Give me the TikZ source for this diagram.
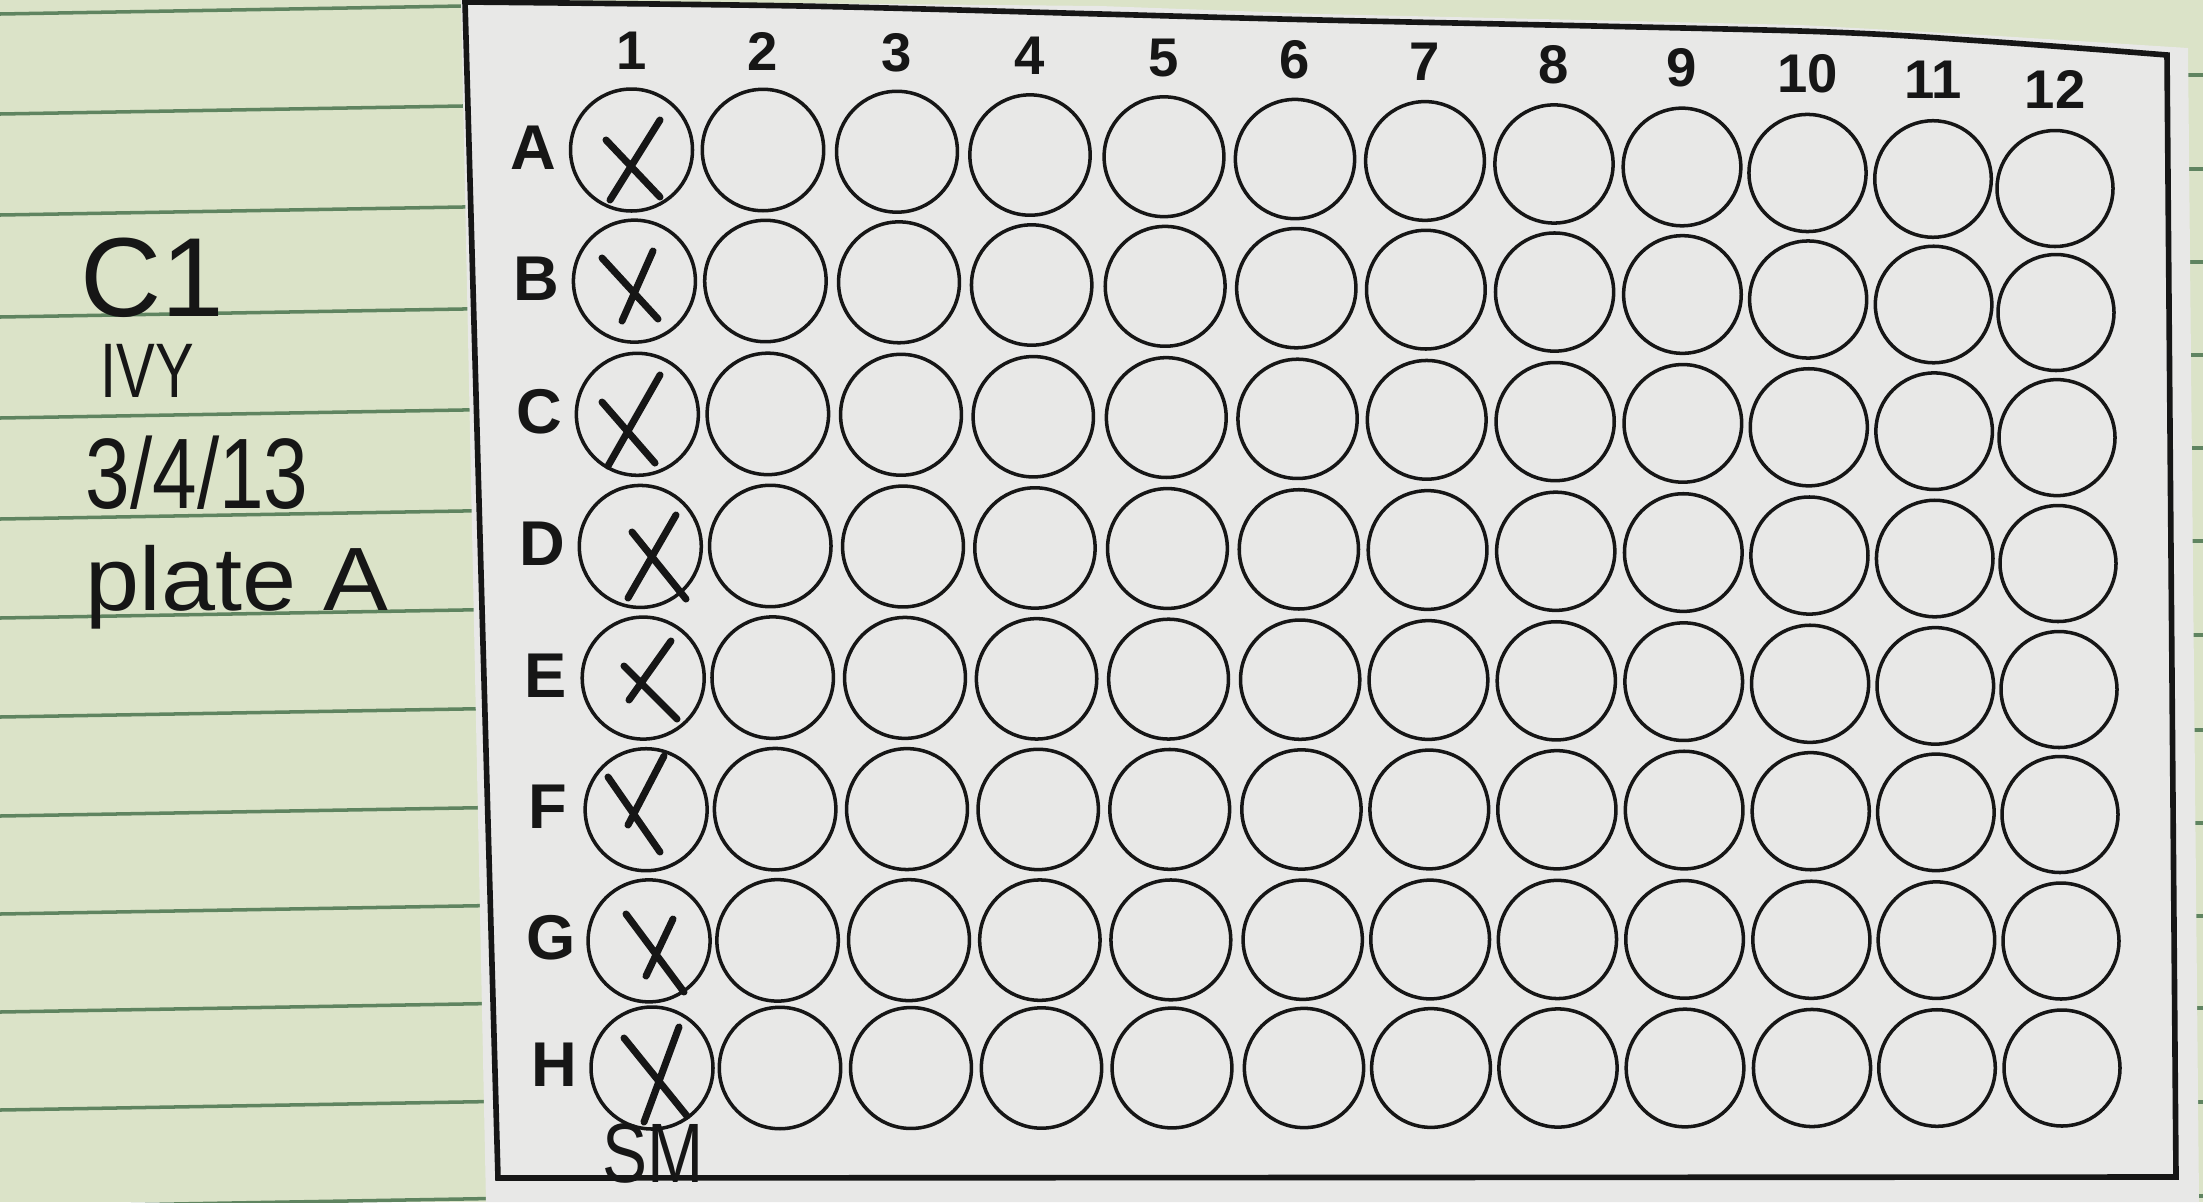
\documentclass[tikz,border=0pt]{standalone}
\usepackage{fontspec}
\setmainfont{Liberation Sans}
\definecolor{notebook}{RGB}{219,227,200}
\definecolor{rulegreen}{RGB}{95,132,96}
\definecolor{sheet}{RGB}{232,232,231}
\definecolor{ink}{RGB}{22,22,22}

% well centres (pixel units)
\def\rowAx{{631.5,763,897,1030,1164,1295,1425,1554,1682,1807.5,1933,2055}}
\def\rowHx{{652,780,911,1041.5,1172,1304,1431,1558,1685,1812,1937,2062}}
\def\colAy{{151,282,415,547,678.5,810,941,1068}}
\def\colLy{{188.5,312.5,437.6,563.5,689.5,814.5,941,1068}}
\def\bowA{{-1,-4.4,-6.1,-6.2,-7.9,-9,-10.5,-10.9,-11.3,-8.7,-6.1,0}}

\begin{document}
\begin{tikzpicture}[
  x=0.1mm, y=-0.1mm,
  ruling/.style={draw=rulegreen,line width=1pt},
  plate/.style={draw=ink,line width=1.6pt,line join=miter},
  well/.style={circle,draw=ink,line width=1pt,inner sep=0pt},
  collabel/.style={font=\bfseries\fontsize{15.5}{18}\selectfont,text=ink,inner sep=0pt},
  rowlabel/.style={font=\bfseries\fontsize{18}{21}\selectfont,text=ink,inner sep=0pt},
  handwriting/.style={font=\fontsize{#1}{#1}\selectfont,text=ink,inner sep=0pt,anchor=base west},
  cross/.style={draw=ink,line width=2pt,line cap=round}
]
\useasboundingbox (0,0) rectangle (2203,1202);
\fill[notebook] (0,0) rectangle (2203,1202);

% notebook rulings
\foreach \y in {14,114,215,317,418,519,618,717,816,914,1012,1110,1207}
  \draw[ruling] (0,\y) -- (520,\y-9);
\foreach \y in {75,169,262,355,448,541,635,730,823,916,1008,1102,1196}
  \draw[ruling] (2170,\y) -- (2203,\y);

% the sheet
\fill[sheet] (461,0) -- (1100,6) -- (1320,14) -- (1800,25) -- (1983,35) -- (2188,48)
  -- (2199,1202) -- (486,1202) -- cycle;

% plate outline
\draw[plate] plot[smooth] coordinates {(465,2) (800,6) (1100,14) (1320,20) (1800,31) (1983,41) (2167,55)}
  -- (2176,1177) -- (498,1178) -- cycle;

% wells
\foreach \c in {0,...,11}{
  \foreach \r/\rl in {0/A,1/B,2/C,3/D,4/E,5/F,6/G,7/H}{
    \pgfmathsetmacro\wellx{(1-\r/7)*\rowAx[\c]+\r/7*\rowHx[\c]}
    \pgfmathsetmacro\welly{(1-\c/11)*\colAy[\r]+\c/11*\colLy[\r]+(1-\r/7)*\bowA[\c]}
    \pgfmathsetmacro\welld{0.2*(61-3*\c/11)}
    \pgfmathtruncatemacro\cn{\c+1}
    \node[well,minimum size=\welld mm] (w\rl\cn) at (\wellx,\welly) {};
  }
}

% column numbers
\foreach \c in {0,...,11}{
  \pgfmathsetmacro\lx{\rowAx[\c]}
  \pgfmathsetmacro\ly{(1-\c/11)*\colAy[0]+\c/11*\colLy[0]+\bowA[\c]-99}
  \pgfmathtruncatemacro\cn{\c+1}
  \node[collabel] (col\cn) at (\lx,\ly) {\cn};
}

% row letters
\foreach \r/\rl in {0/A,1/B,2/C,3/D,4/E,5/F,6/G,7/H}{
  \pgfmathsetmacro\lx{(1-\r/7)*631.5+\r/7*652-98}
  \pgfmathsetmacro\ly{\colAy[\r]-3}
  \node[rowlabel] (row\rl) at (\lx,\ly) {\rl};
}

% crosses in column 1
\foreach \pa/\pb/\pc/\pd in {
  {(610,200)}/{(660,120)}/{(606,140)}/{(660,197)},
  {(622,321)}/{(653,251)}/{(602,258)}/{(658,319)},
  {(608,466)}/{(660,375)}/{(602,402)}/{(655,463)},
  {(628,598)}/{(676,515)}/{(632,532)}/{(686,599)},
  {(629,700)}/{(671,641)}/{(624,666)}/{(677,719)},
  {(628,825)}/{(664,756)}/{(608,777)}/{(660,852)},
  {(646,976)}/{(673,919)}/{(626,914)}/{(684,992)},
  {(644,1122)}/{(679,1027)}/{(624,1038)}/{(687,1116)}}
  \draw[cross] \pa -- \pb \pc -- \pd;

% handwritten notes
\node[handwriting=32] (platecode) at (80,316) {C1};
\node[handwriting=22] (initials) at (100,397) {\scalebox{0.75}[1]{IVY}};
\node[handwriting=28.5] (platedate) at (85,508) {\scalebox{0.8}[1]{3/4/13}};
\node[handwriting=25.6] (platename) at (85,610) {\scalebox{1.08}[1]{plate A}};
\node[handwriting=24] (signer) at (602,1182) {\scalebox{0.8}[1]{SM}};
\end{tikzpicture}
\end{document}
